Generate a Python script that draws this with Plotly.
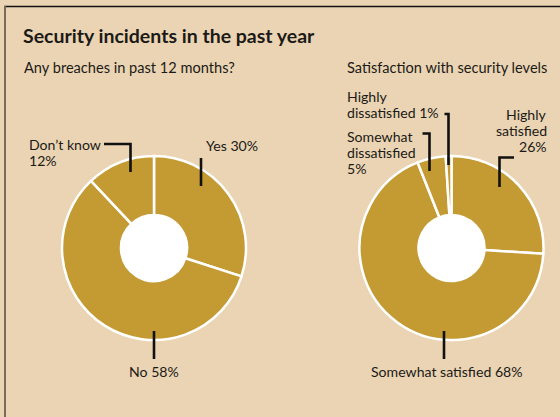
import plotly.graph_objects as go

# ---- data ----
breach_labels = ["Yes", "No", "Don\u2019t know"]
breach_values = [30, 58, 12]
satis_labels = ["Highly satisfied", "Somewhat satisfied", "Somewhat dissatisfied", "Highly dissatisfied"]
satis_values = [26, 68, 5, 1]

title = "Security incidents in the past year"
sub_left = "Any breaches in past 12 months?"
sub_right = "Satisfaction with security levels"

# ---- styling / layout ----
W, H = 560, 417
BG = "#EAD4B3"
GOLD = "#C49A33"
FONT = "Lato"
INK = "#1c1a17"
LBL = 14.1
LINE_H = 16


def fx(x):
    return x / W


def fy(y):
    return 1 - y / H


R = 92
HOLE_R = 33
centers = [(154, 248), (451.5, 248)]

fig = go.Figure()
for (cx, cy), labels, values in [(centers[0], breach_labels, breach_values),
                                 (centers[1], satis_labels, satis_values)]:
    fig.add_trace(go.Pie(
        labels=labels, values=values, sort=False, direction="clockwise", rotation=0,
        hole=HOLE_R / R, textinfo="none", hoverinfo="label+percent", showlegend=False,
        marker=dict(colors=[GOLD] * len(values), line=dict(color="white", width=2.5)),
        domain=dict(x=[fx(cx - R), fx(cx + R)], y=[fy(cy + R), fy(cy - R)]),
    ))

shapes = []
# white hole discs
for cx, cy in centers:
    shapes.append(dict(type="circle", xref="paper", yref="paper",
                       x0=fx(cx - HOLE_R), x1=fx(cx + HOLE_R),
                       y0=fy(cy + HOLE_R), y1=fy(cy - HOLE_R),
                       fillcolor="white", line=dict(width=0), layer="above"))
# frame
shapes.append(dict(type="line", xref="paper", yref="paper", x0=fx(4), x1=1, y0=fy(6.5), y1=fy(6.5),
                   line=dict(color="#111111", width=1.6)))
shapes.append(dict(type="line", xref="paper", yref="paper", x0=fx(5), x1=fx(5), y0=fy(6), y1=0,
                   line=dict(color="#7A6A58", width=2)))


def leader(points):
    d = "M " + " L ".join(f"{fx(x)},{fy(y)}" for x, y in points)
    shapes.append(dict(type="path", xref="paper", yref="paper", path=d,
                       line=dict(color="#111111", width=2.6), layer="above"))


leader([(201, 158), (201, 186)])
leader([(104, 144), (130.5, 144), (130.5, 172)])
leader([(154, 331), (154, 359)])
leader([(444.5, 114), (448.5, 114), (448.5, 165)])
leader([(422.5, 133.5), (429.5, 133.5), (429.5, 171)])
leader([(514, 157.5), (499.5, 157.5), (499.5, 187)])
leader([(444, 331), (444, 359)])

anns = []


def text(s, x, y, xanchor="left", size=LBL, bold=False):
    anns.append(dict(text=f"<b>{s}</b>" if bold else s, x=fx(x), y=fy(y), xref="paper", yref="paper",
                     xanchor=xanchor, yanchor="middle", showarrow=False,
                     font=dict(family=FONT, size=size, color=INK)))


def lines(parts, x, y_first, xanchor="left"):
    for i, p in enumerate(parts):
        text(p, x, y_first + i * LINE_H, xanchor=xanchor)


text(title, 21, 35, size=19.5, bold=True)
text(sub_left, 22, 67, size=14.6)
text(sub_right, 345, 67, size=14.6)

text(f"{breach_labels[0]} {breach_values[0]}%", 204, 145)
lines([breach_labels[2], f"{breach_values[2]}%"], 27, 144)
text(f"{breach_labels[1]} {breach_values[1]}%", 154, 371, xanchor="center")

lines(["Highly", f"dissatisfied {satis_values[3]}%"], 345, 96.5)
lines(["Somewhat", "dissatisfied", f"{satis_values[2]}%"], 345, 136.5)
lines(["Highly", "satisfied", f"{satis_values[0]}%"], 549, 114.5, xanchor="right")
text(f"{satis_labels[1]} {satis_values[1]}%", 447, 371, xanchor="center")

fig.update_layout(width=W, height=H, margin=dict(l=0, r=0, t=0, b=0),
                  paper_bgcolor=BG, plot_bgcolor=BG, shapes=shapes, annotations=anns)
fig.write_html("out.html")
